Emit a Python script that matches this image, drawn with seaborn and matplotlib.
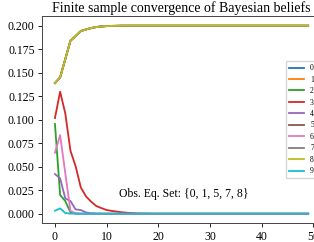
import pandas as pd
import seaborn as sns
import matplotlib
matplotlib.use("Agg")
import matplotlib.pyplot as plt

# beliefs per type over 50 samples
steps = list(range(50))

# types in the observed equilibrium set all converge to 0.2 (lines overlap)
eq_belief = [0.139, 0.145, 0.1645, 0.184, 0.189, 0.1943, 0.196, 0.1975, 0.1986, 0.1992,
             0.1996, 0.1998, 0.1999, 0.2, 0.2, 0.2, 0.2, 0.2, 0.2, 0.2,
             0.2, 0.2, 0.2, 0.2, 0.2, 0.2, 0.2, 0.2, 0.2, 0.2,
             0.2, 0.2, 0.2, 0.2, 0.2, 0.2, 0.2, 0.2, 0.2, 0.2,
             0.2, 0.2, 0.2, 0.2, 0.2, 0.2, 0.2, 0.2, 0.2, 0.2]
belief_2 = [0.0954, 0.0199, 0.0135, 0.0014, 0.0002, 0.0, 0.0, 0.0, 0.0, 0.0,
            0.0, 0.0, 0.0, 0.0, 0.0, 0.0, 0.0, 0.0, 0.0, 0.0,
            0.0, 0.0, 0.0, 0.0, 0.0, 0.0, 0.0, 0.0, 0.0, 0.0,
            0.0, 0.0, 0.0, 0.0, 0.0, 0.0, 0.0, 0.0, 0.0, 0.0,
            0.0, 0.0, 0.0, 0.0, 0.0, 0.0, 0.0, 0.0, 0.0, 0.0]
belief_3 = [0.1018, 0.1298, 0.1067, 0.067, 0.0505, 0.028, 0.0185, 0.0128, 0.0082, 0.006,
            0.0039, 0.003, 0.0022, 0.0015, 0.001, 0.0006, 0.0003, 0.0002, 0.0001, 0.0,
            0.0, 0.0, 0.0, 0.0, 0.0, 0.0, 0.0, 0.0, 0.0, 0.0,
            0.0, 0.0, 0.0, 0.0, 0.0, 0.0, 0.0, 0.0, 0.0, 0.0,
            0.0, 0.0, 0.0, 0.0, 0.0, 0.0, 0.0, 0.0, 0.0, 0.0]
belief_4 = [0.0422, 0.0376, 0.0163, 0.0135, 0.0046, 0.0039, 0.0014, 0.0005, 0.0002, 0.0,
            0.0, 0.0, 0.0, 0.0, 0.0, 0.0, 0.0, 0.0, 0.0, 0.0,
            0.0, 0.0, 0.0, 0.0, 0.0, 0.0, 0.0, 0.0, 0.0, 0.0,
            0.0, 0.0, 0.0, 0.0, 0.0, 0.0, 0.0, 0.0, 0.0, 0.0,
            0.0, 0.0, 0.0, 0.0, 0.0, 0.0, 0.0, 0.0, 0.0, 0.0]
belief_6 = [0.0649, 0.0837, 0.043, 0.003, 0.0005, 0.0001, 0.0, 0.0, 0.0, 0.0,
            0.0, 0.0, 0.0, 0.0, 0.0, 0.0, 0.0, 0.0, 0.0, 0.0,
            0.0, 0.0, 0.0, 0.0, 0.0, 0.0, 0.0, 0.0, 0.0, 0.0,
            0.0, 0.0, 0.0, 0.0, 0.0, 0.0, 0.0, 0.0, 0.0, 0.0,
            0.0, 0.0, 0.0, 0.0, 0.0, 0.0, 0.0, 0.0, 0.0, 0.0]
belief_9 = [0.0032, 0.0057, 0.0007, 0.0001, 0.0, 0.0, 0.0, 0.0, 0.0, 0.0,
            0.0, 0.0, 0.0, 0.0, 0.0, 0.0, 0.0, 0.0, 0.0, 0.0,
            0.0, 0.0, 0.0, 0.0, 0.0, 0.0, 0.0, 0.0, 0.0, 0.0,
            0.0, 0.0, 0.0, 0.0, 0.0, 0.0, 0.0, 0.0, 0.0, 0.0,
            0.0, 0.0, 0.0, 0.0, 0.0, 0.0, 0.0, 0.0, 0.0, 0.0]

types = ["0", "1", "2", "3", "4", "5", "6", "7", "8", "9"]
series = {"0": eq_belief, "1": eq_belief, "2": belief_2, "3": belief_3, "4": belief_4,
          "5": eq_belief, "6": belief_6, "7": eq_belief, "8": eq_belief, "9": belief_9}

rows = []
for t in types:
    for s, v in zip(steps, series[t]):
        rows.append({"step": s, "belief": v, "type": t})
df = pd.DataFrame(rows)

plt.rcParams["font.family"] = ["Liberation Serif", "DejaVu Serif"]

fig = plt.figure(figsize=(3.14, 2.42), dpi=100)
ax = fig.add_axes([0.1347, 0.078, 0.887, 0.8546])

sns.lineplot(data=df, x="step", y="belief", hue="type", hue_order=types,
             palette="tab10", linewidth=1.3, ax=ax, legend=True)

ax.set_title("Finite sample convergence of Bayesian beliefs", fontsize=10, pad=3)
ax.set_xlabel("")
ax.set_ylabel("")
ax.set_xticks([0, 10, 20, 30, 40, 50])
ax.set_yticks([0.0, 0.025, 0.05, 0.075, 0.1, 0.125, 0.15, 0.175, 0.2])
ax.set_yticklabels(["0.000", "0.025", "0.050", "0.075", "0.100", "0.125", "0.150", "0.175", "0.200"])
ax.tick_params(labelsize=8.5, length=3, width=0.6, pad=2.5)
for sp in ax.spines.values():
    sp.set_linewidth(0.7)
    sp.set_color("#444444")

ax.text(12.4, 0.0206, "Obs. Eq. Set: {0, 1, 5, 7, 8}", fontsize=8.5, va="center", ha="left")

ax.legend(loc="center right", fontsize=5.5, frameon=True, framealpha=0.8,
          edgecolor="#cccccc", borderaxespad=0.5, labelspacing=0.45)

fig.savefig("out.png", dpi=100)
